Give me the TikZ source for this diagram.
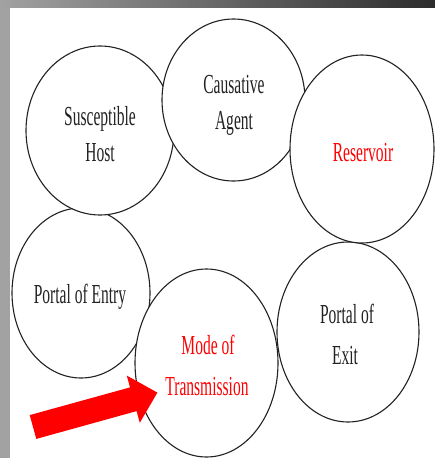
\documentclass[tikz,border=0pt]{standalone}
\usepackage{fontspec}
\newfontfamily\condserif[FakeStretch=0.565]{Liberation Serif}
\usetikzlibrary{shapes.geometric}
\definecolor{bandlight}{HTML}{A2A2A2}
\definecolor{banddark}{HTML}{2C2C2C}
\definecolor{ringline}{HTML}{222222}
\definecolor{hotred}{HTML}{FF0000}
\tikzset{
  ring/.style={ellipse, draw=ringline, line width=1.1pt, fill=white, inner sep=0pt, outer sep=0pt},
  lbl/.style={anchor=base, inner sep=0pt, font=\condserif\fontsize{27.5}{30}\selectfont, text=ringline},
  redlbl/.style={lbl, text=hotred},
}
\begin{document}
\begin{tikzpicture}[x=1pt, y=-1pt]
  \useasboundingbox (0,0) rectangle (435,458);
  \fill[white] (0,0) rectangle (435,458);
  \fill[bandlight] (0,0) rectangle (10,458);
  \shade[left color=bandlight, right color=banddark] (0,0) rectangle (435,7);

  \node[ring, minimum width=138pt, minimum height=170pt] (entry) at (81,293) {};
  \node[ring, minimum width=143pt, minimum height=188pt] (mode) at (206.5,363) {};
  \node[ring, minimum width=142pt, minimum height=180pt] (exit) at (348,332) {};
  \node[ring, minimum width=148pt, minimum height=169pt] (host) at (100,130.5) {};
  \node[ring, minimum width=143pt, minimum height=162pt] (agent) at (233.5,100) {};
  \node[ring, minimum width=144pt, minimum height=188pt] (reservoir) at (362,149) {};

  \node[lbl] (hostA) at (100,125) {Susceptible};
  \node[lbl] (hostB) at (100,161) {Host};
  \node[lbl] (agentA) at (234,93) {Causative};
  \node[lbl] (agentB) at (234,129) {Agent};
  \node[redlbl] (resA) at (363,161) {Reservoir};
  \node[lbl] (entryA) at (80,303) {Portal of Entry};
  \node[redlbl] (modeA) at (208,354) {Mode of};
  \node[redlbl] (modeB) at (207,395) {Transmission};
  \node[lbl] (exitA) at (347,323) {Portal of};
  \node[lbl] (exitB) at (345,364) {Exit};

  \fill[hotred] (29.7,415.1) -- (130.0,387.4) -- (126.8,375.6) -- (157.4,392.6)
    -- (139.8,422.8) -- (136.6,411.1) -- (36.3,438.9) -- cycle;
\end{tikzpicture}
\end{document}
